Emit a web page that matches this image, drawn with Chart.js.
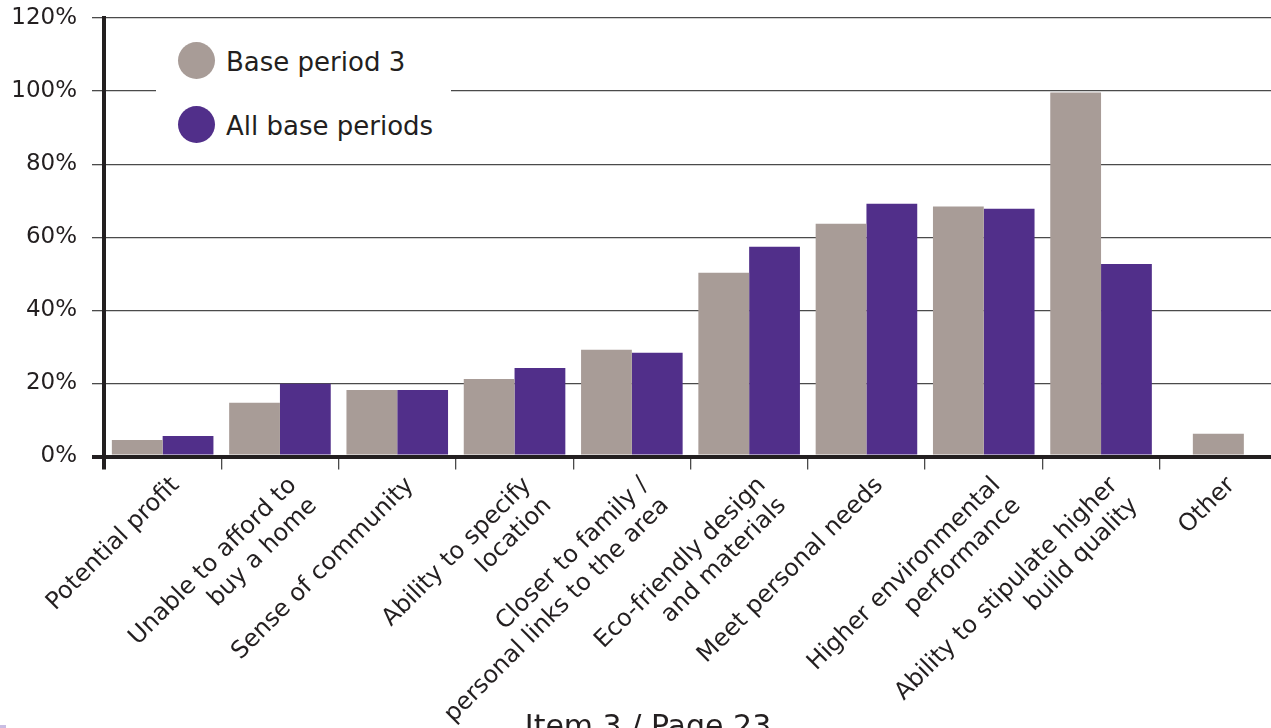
<!DOCTYPE html>
<html>
<head>
<meta charset="utf-8">
<title>Reasons for choosing</title>
<script src="https://cdn.jsdelivr.net/npm/chart.js@4/dist/chart.umd.min.js"></script>
<style>
  html, body { margin: 0; padding: 0; background: #fff; width: 1271px; height: 728px; overflow: hidden; }
  body { position: relative; font-family: 'DejaVu Sans', sans-serif; color: #231f20; }
  #chart { position: absolute; left: 0; top: 0; }
  #legend { position: absolute; left: 156px; top: 32px; width: 295px; height: 122px; background: #fff; }
  .item { position: absolute; left: 22px; height: 38px; }
  .dot { position: absolute; left: 0; top: 0; width: 37px; height: 37px; border-radius: 50%; }
  .txt { position: absolute; left: 48px; top: 7px; font-size: 26px; line-height: 26px; white-space: nowrap; }
  #footer { position: absolute; left: 448px; width: 400px; top: 711px; text-align: center; font-size: 30px; line-height: 30px; white-space: nowrap; }
  #corner { position: absolute; left: 0; top: 725px; width: 6px; height: 3px; background: #c9bde3; }
</style>
</head>
<body>
<canvas id="chart" width="1277" height="728"></canvas>
<div id="legend"></div>
<div id="footer">Item 3 / Page 23</div>
<div id="corner"></div>
<script>
// Categories (multi-line labels are arrays of lines)
const categories = [
  'Potential profit',
  ['Unable to afford to', 'buy a home'],
  'Sense of community',
  ['Ability to specify', 'location'],
  ['Closer to family /', 'personal links to the area'],
  ['Eco-friendly design', 'and materials'],
  'Meet personal needs',
  ['Higher environmental', 'performance'],
  ['Ability to stipulate higher', 'build quality'],
  'Other'
];

// Share of respondents (%)
const basePeriod3    = [4.5, 14.7, 18.2, 21.2, 29.2, 50.3, 63.7, 68.4, 99.6, 6.2];
const allBasePeriods = [5.6, 19.9, 18.2, 24.2, 28.4, 57.4, 69.2, 67.8, 52.7, null];

const seriesNames = ['Base period 3', 'All base periods'];
const yTicks = [0, 20, 40, 60, 80, 100, 120];

const GREY = '#a89c97';
const PURPLE = '#512f8a';
const TEXT = '#231f20';
const GRID = '#4a4a4a';
const AXIS = '#231f20';

Chart.defaults.font.family = "'DejaVu Sans', sans-serif";
Chart.defaults.color = TEXT;

const barStyle = { barPercentage: 1, categoryPercentage: 0.866, maxBarThickness: 51, skipNull: true };

const chart = new Chart(document.getElementById('chart'), {
  type: 'bar',
  data: {
    labels: categories,
    datasets: [
      Object.assign({ label: seriesNames[0], data: basePeriod3, backgroundColor: GREY }, barStyle),
      Object.assign({ label: seriesNames[1], data: allBasePeriods, backgroundColor: PURPLE }, barStyle)
    ]
  },
  options: {
    responsive: false,
    animation: false,
    layout: { padding: { top: 18, right: 0, bottom: 0, left: 0 } },
    plugins: { legend: { display: false }, tooltip: { enabled: false }, title: { display: false } },
    scales: {
      x: {
        z: 1,
        grid: {
          offset: true,
          drawOnChartArea: false,
          drawTicks: true,
          tickLength: 13,
          color: ctx => ctx.index === 0 ? AXIS : GRID,
          lineWidth: ctx => ctx.index === 0 ? 4 : 1.3
        },
        border: { display: true, color: AXIS, width: 4 },
        ticks: {
          autoSkip: false,
          minRotation: 45,
          maxRotation: 45,
          padding: 2,
          labelOffset: 13,
          color: TEXT,
          font: { size: 24, lineHeight: 1.2 }
        },
        afterFit: s => { s.height = 728 - 456.5; }
      },
      y: {
        min: yTicks[0],
        max: yTicks[yTicks.length - 1],
        afterBuildTicks: s => { s.ticks = yTicks.map(v => ({ value: v })); },
        grid: {
          drawTicks: true,
          tickLength: 12,
          color: ctx => (ctx.tick && ctx.tick.value === 0) ? AXIS : GRID,
          lineWidth: ctx => (ctx.tick && ctx.tick.value === 0) ? 4 : 1.3
        },
        border: { display: true, color: AXIS, width: 4 },
        ticks: {
          padding: 15,
          color: TEXT,
          font: { size: 23 },
          callback: v => v + '%'
        },
        afterFit: s => {
          s.width = 104;
          s.paddingTop = 0;
          s.paddingBottom = 0;
        }
      }
    }
  }
});

// Legend built from the chart's datasets
const legend = document.getElementById('legend');
chart.data.datasets.forEach((ds, i) => {
  const item = document.createElement('div');
  item.className = 'item';
  item.style.top = (10 + i * 64) + 'px';
  const dot = document.createElement('div');
  dot.className = 'dot';
  dot.style.background = ds.backgroundColor;
  const txt = document.createElement('div');
  txt.className = 'txt';
  txt.textContent = ds.label;
  item.appendChild(dot);
  item.appendChild(txt);
  legend.appendChild(item);
});
</script>
</body>
</html>
